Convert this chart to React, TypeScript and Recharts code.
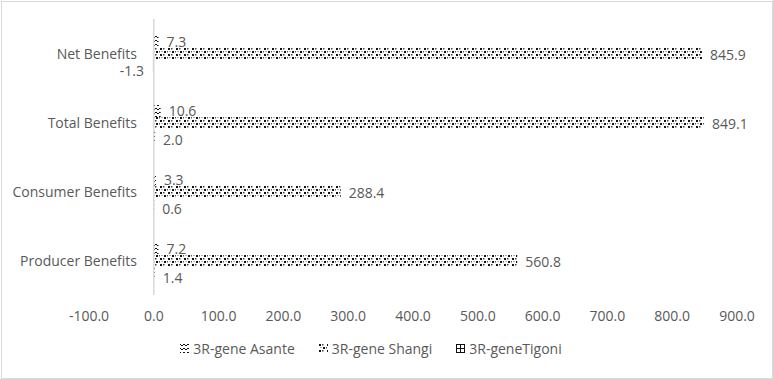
import React from 'react';
import { BarChart, Bar, XAxis, YAxis, Legend, ReferenceLine, LabelList } from 'recharts';

const categories = ['Net Benefits', 'Total Benefits', 'Consumer Benefits', 'Producer Benefits'];
const asante = [7.3, 10.6, 3.3, 7.2];
const shangi = [845.9, 849.1, 288.4, 560.8];
const tigoni = [-1.3, 2.0, 0.6, 1.4];
const xTicks = [-100, 0, 100, 200, 300, 400, 500, 600, 700, 800, 900];

const seriesList = [
  { key: 'asante', name: '3R-gene Asante', fill: 'url(#patAsante)', labelDy: -1 },
  { key: 'shangi', name: '3R-gene Shangi', fill: 'url(#patShangi)', labelDy: 0 },
  { key: 'tigoni', name: '3R-geneTigoni', fill: 'url(#patTigoni)', labelDy: 4 },
];

const data = categories.map((name, i) => ({
  name,
  asante: asante[i],
  shangi: shangi[i],
  tigoni: tigoni[i],
}));

const FONT = '"Open Sans", sans-serif';
const GRAY = '#595959';

const Patterns = () => (
  <svg width={0} height={0} style={{ position: 'absolute' }}>
    <defs>
      <pattern id="patShangi" width="8" height="6" patternUnits="userSpaceOnUse">
        <rect width="8" height="6" fill="#fff" />
        <rect x="0" y="0" width="2" height="2" fill="#111" />
        <rect x="3" y="0" width="1.5" height="1.5" fill="#444" />
        <rect x="4" y="3" width="2" height="2" fill="#111" />
        <rect x="7" y="3" width="1" height="1.5" fill="#555" />
        <rect x="1.5" y="3" width="1" height="1" fill="#666" />
      </pattern>
      <pattern id="patAsante" width="4" height="4" patternUnits="userSpaceOnUse">
        <rect width="4" height="4" fill="#fff" />
        <path d="M0,0 L2,2 L4,0" stroke="#111" strokeWidth="1" fill="none" />
      </pattern>
      <pattern id="patTigoni" width="4" height="4" patternUnits="userSpaceOnUse">
        <rect width="4" height="4" fill="#fff" />
        <path d="M0,0.5 H4 M0.5,0 V4" stroke="#111" strokeWidth="1" fill="none" />
      </pattern>
    </defs>
  </svg>
);

const makeValueLabel = (dy: number) => (props: any) => {
  const { x, y, width, height, value } = props;
  const left = Math.min(x, x + width);
  const right = Math.max(x, x + width);
  const neg = value < 0;
  return (
    <text
      x={neg ? left - 9 : right + 8}
      y={y + height / 2 + dy}
      textAnchor={neg ? 'end' : 'start'}
      dominantBaseline="central"
      fill={GRAY}
      fontSize={14}
      fontFamily={FONT}
    >
      {Number(value).toFixed(1)}
    </text>
  );
};

const CategoryTick = (props: any) => {
  const { x, y, payload } = props;
  return (
    <text x={x + 56} y={y} textAnchor="end" dominantBaseline="central" fill={GRAY} fontSize={14} fontFamily={FONT}>
      {payload.value}
    </text>
  );
};

const LegendContent = () => (
  <div style={{ display: 'flex', justifyContent: 'center', gap: 24, fontFamily: FONT, fontSize: 14, color: GRAY }}>
    {seriesList.map((s) => (
      <div key={s.key} style={{ display: 'flex', alignItems: 'center' }}>
        <svg width={9} height={9} style={{ marginRight: 4 }}>
          <rect width={9} height={9} fill={s.fill} />
        </svg>
        <span>{s.name}</span>
      </div>
    ))}
  </div>
);

export default function App() {
  return (
    <div style={{ position: 'absolute', left: 0, top: 0, width: 773, height: 379, background: '#fff' }}>
      <Patterns />
      <div style={{ position: 'absolute', left: 1, top: 1, width: 770, height: 376, border: '1px solid #d9d9d9' }} />
      <BarChart
        width={773}
        height={379}
        data={data}
        layout="vertical"
        margin={{ top: 19, right: 36, left: 5, bottom: 16 }}
        barGap={0}
      >
        <XAxis
          type="number"
          domain={[-100, 900]}
          ticks={xTicks}
          allowDataOverflow
          tickFormatter={(v: number) => v.toFixed(1)}
          axisLine={false}
          tickLine={false}
          tickMargin={10}
          height={44}
          tick={{ fill: GRAY, fontSize: 14, fontFamily: FONT }}
        />
        <YAxis
          type="category"
          dataKey="name"
          width={84}
          axisLine={false}
          tickLine={false}
          tick={<CategoryTick />}
        />
        <ReferenceLine x={0} stroke="#d9d9d9" strokeWidth={1.5} />
        {seriesList.map((s) => (
          <Bar key={s.key} dataKey={s.key} name={s.name} fill={s.fill} barSize={12} isAnimationActive={false}>
            <LabelList dataKey={s.key} content={makeValueLabel(s.labelDy)} />
          </Bar>
        ))}
        <Legend verticalAlign="bottom" height={24} content={<LegendContent />} />
      </BarChart>
    </div>
  );
}
